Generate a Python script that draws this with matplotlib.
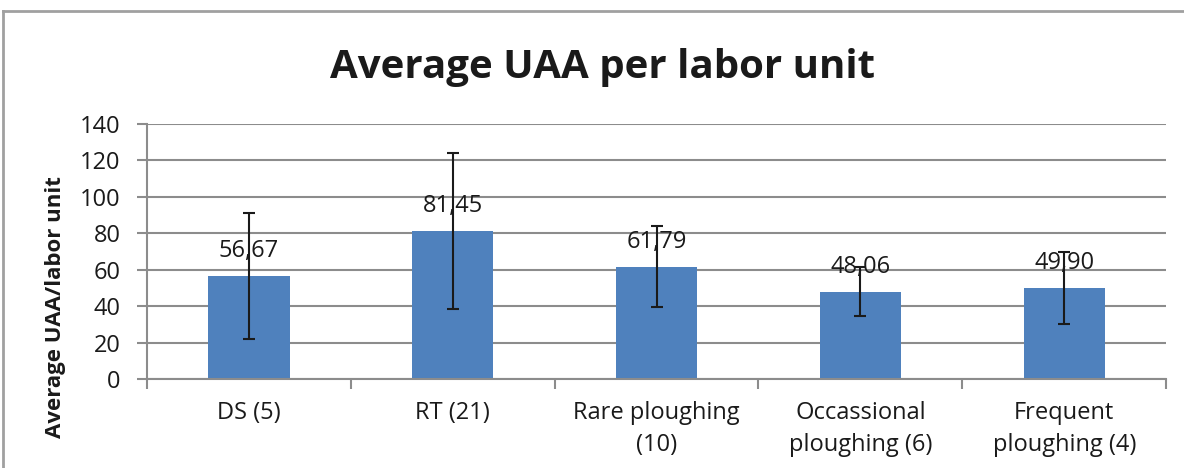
import numpy as np
import matplotlib.pyplot as plt
from matplotlib.lines import Line2D

plt.rcParams['font.family'] = ['Open Sans', 'DejaVu Sans']

categories = ['DS (5)', 'RT (21)', 'Rare ploughing\n(10)',
              'Occassional\nploughing (6)', 'Frequent\nploughing (4)']
means = [56.67, 81.45, 61.79, 48.06, 49.90]
errors = [34.4, 42.8, 22.5, 13.7, 19.9]
yticks = [0, 20, 40, 60, 80, 100, 120, 140]

fig = plt.figure(figsize=(11.84, 4.68), dpi=100)
fig.patch.set_linewidth(0)
ax = fig.add_axes([0.124, 0.19, 0.861, 0.545])

# outer chart frame: only top and left edges are inside the image
top = 1 - 11 / 468
left = 3 / 1184
fig.lines.append(Line2D([left, 1.0], [top, top], transform=fig.transFigure,
                        color='#a0a0a0', linewidth=2.0))
fig.lines.append(Line2D([left, left], [0.0, top], transform=fig.transFigure,
                        color='#a0a0a0', linewidth=2.0))

x = np.arange(len(categories))
ax.bar(x, means, width=0.4, color='#4F81BD', zorder=2)
ax.errorbar(x, means, yerr=errors, fmt='none', ecolor='#1a1a1a',
            elinewidth=1.5, capsize=4.5, capthick=1.5, zorder=3)

for xi, m in zip(x, means):
    ax.annotate(f'{m:.2f}'.replace('.', ','), (xi, m), xytext=(0, 18),
                textcoords='offset points', ha='center', va='center',
                fontsize=17, color='#1a1a1a', zorder=4)

ax.set_xlim(-0.5, len(categories) - 0.5)
ax.set_ylim(0, 140)
ax.set_yticks(yticks)
ax.yaxis.grid(True, color='#8c8c8c', linewidth=1.5, zorder=0)
ax.set_axisbelow(True)

ax.set_xticks(np.arange(len(categories) + 1) - 0.5)
ax.set_xticklabels([])
ax.set_xticks(x, minor=True)
ax.set_xticklabels(categories, minor=True, fontsize=17, color='#1a1a1a',
                   linespacing=1.45)
ax.tick_params(axis='x', which='minor', length=0, pad=16)
ax.tick_params(axis='x', which='major', length=7, width=1.5, color='#8c8c8c')
ax.tick_params(axis='y', length=7, width=1.5, color='#8c8c8c',
               labelsize=17, labelcolor='#1a1a1a', pad=12)

for side in ['top', 'right']:
    ax.spines[side].set_visible(False)
ax.spines['left'].set_color('#8c8c8c')
ax.spines['left'].set_linewidth(1.5)
ax.spines['bottom'].set_color('#8c8c8c')
ax.spines['bottom'].set_linewidth(1.5)

fig.text(55 / 1184, 1 - 307 / 468, 'Average UAA/labor unit', rotation=90,
         ha='center', va='center', fontsize=16, fontweight='bold',
         color='#1a1a1a')
fig.text(0.509, 0.855, 'Average UAA per labor unit', ha='center', va='center',
         fontsize=29, fontweight='bold', color='#1a1a1a')

fig.savefig('out.png', dpi=100, facecolor='white')
